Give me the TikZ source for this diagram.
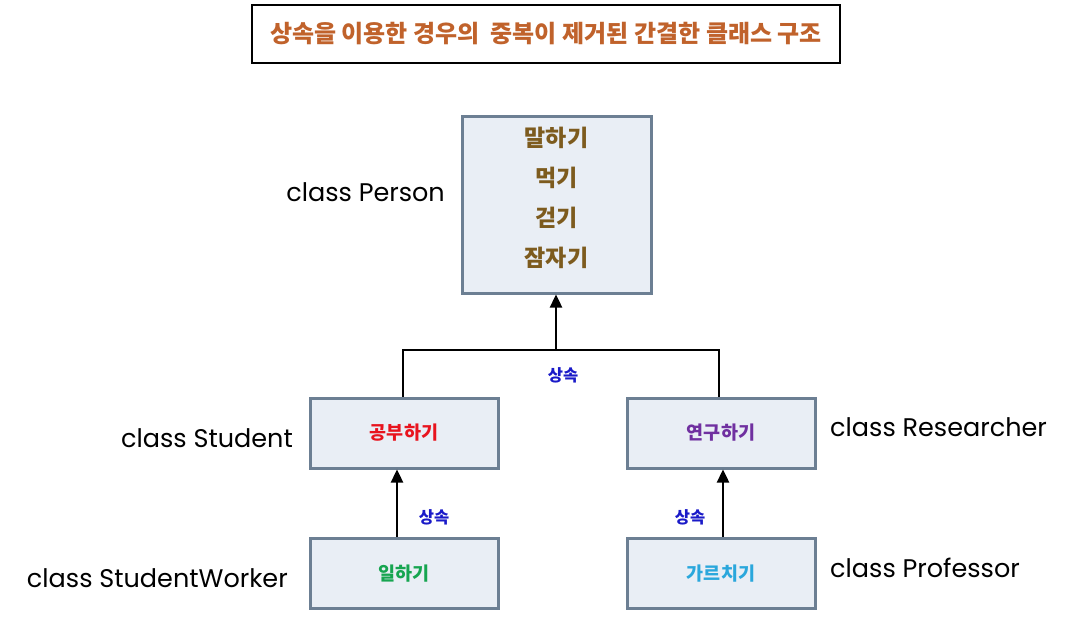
\documentclass[tikz,border=0pt]{standalone}
\usepackage{fontspec}
\setmainfont{Poppins}
\newfontfamily\kr{Noto Sans CJK KR}
\usetikzlibrary{arrows.meta}
\definecolor{bordc}{HTML}{6C7F93}
\definecolor{fillc}{HTML}{E9EEF5}
\definecolor{titlec}{HTML}{C0622B}
\definecolor{personc}{HTML}{7D5B1E}
\definecolor{redc}{HTML}{E8141E}
\definecolor{purplec}{HTML}{7030A0}
\definecolor{greenc}{HTML}{16A550}
\definecolor{cyanc}{HTML}{2AA7DC}
\definecolor{bluec}{HTML}{1A1AC8}
\begin{document}
\begin{tikzpicture}[x=1pt,y=-1pt,
  classbox/.style={draw=bordc,fill=fillc,line width=3pt,inner sep=0pt,minimum width=188pt,minimum height=70pt,font=\kr\bfseries\fontsize{18.5}{22}\selectfont},
  clabel/.style={inner sep=0pt,font=\fontsize{25.5}{28}\selectfont},
  inh/.style={inner sep=0pt,text=bluec,font=\kr\bfseries\fontsize{16.5}{18}\selectfont},
  arr/.style={line width=2.4pt,-{Triangle[width=12pt,length=13pt]}},
  conn/.style={line width=2.4pt}]
\path[use as bounding box] (0,0) rectangle (1066,618);
\node[draw=black,line width=2pt,minimum width=588pt,minimum height=58pt,inner sep=0pt,text=titlec,font=\kr\bfseries\fontsize{24}{28}\selectfont] (title) at (546,34) {상속을 이용한 경우의 \ 중복이 제거된 간결한 클래스 구조};
\node[classbox,minimum width=189pt,minimum height=177pt] (person) at (556.5,204.5) {};
\node[inner sep=0pt,text=personc,font=\kr\bfseries\fontsize{23}{40}\selectfont,align=center] (ptext) at (556.5,198) {말하기\\먹기\\걷기\\잠자기};
\node[clabel,anchor=east] (lperson) at (445,192) {class Person};
\node[classbox,text=redc] (stu) at (404,433) {공부하기};
\node[classbox,text=purplec] (res) at (721,433) {연구하기};
\node[classbox,text=greenc] (sw) at (404,573.5) {일하기};
\node[classbox,text=cyanc] (prof) at (721,573.5) {가르치기};
\node[clabel,anchor=east] (lstu) at (293,438) {class Student};
\node[clabel,anchor=west] (lres) at (830,427) {class Researcher};
\node[clabel,anchor=east] (lsw) at (288,578) {class StudentWorker};
\node[clabel,anchor=west] (lprof) at (830,568) {class Professor};
\coordinate (junc) at (556,350);
\draw[conn] ([xshift=-1pt]stu.north) |- (junc) -| ([xshift=-2pt]res.north);
\draw[arr] (junc) -- (person.south -| junc);
\node[inh] (i1) at (563,375) {상속};
\draw[arr] ([xshift=-7pt]sw.north) -- ([xshift=-7pt]stu.south);
\draw[arr] ([xshift=2pt]prof.north) -- ([xshift=2pt]res.south);
\node[inh] (i2) at (434,517) {상속};
\node[inh] (i3) at (690,517) {상속};
\end{tikzpicture}
\end{document}
